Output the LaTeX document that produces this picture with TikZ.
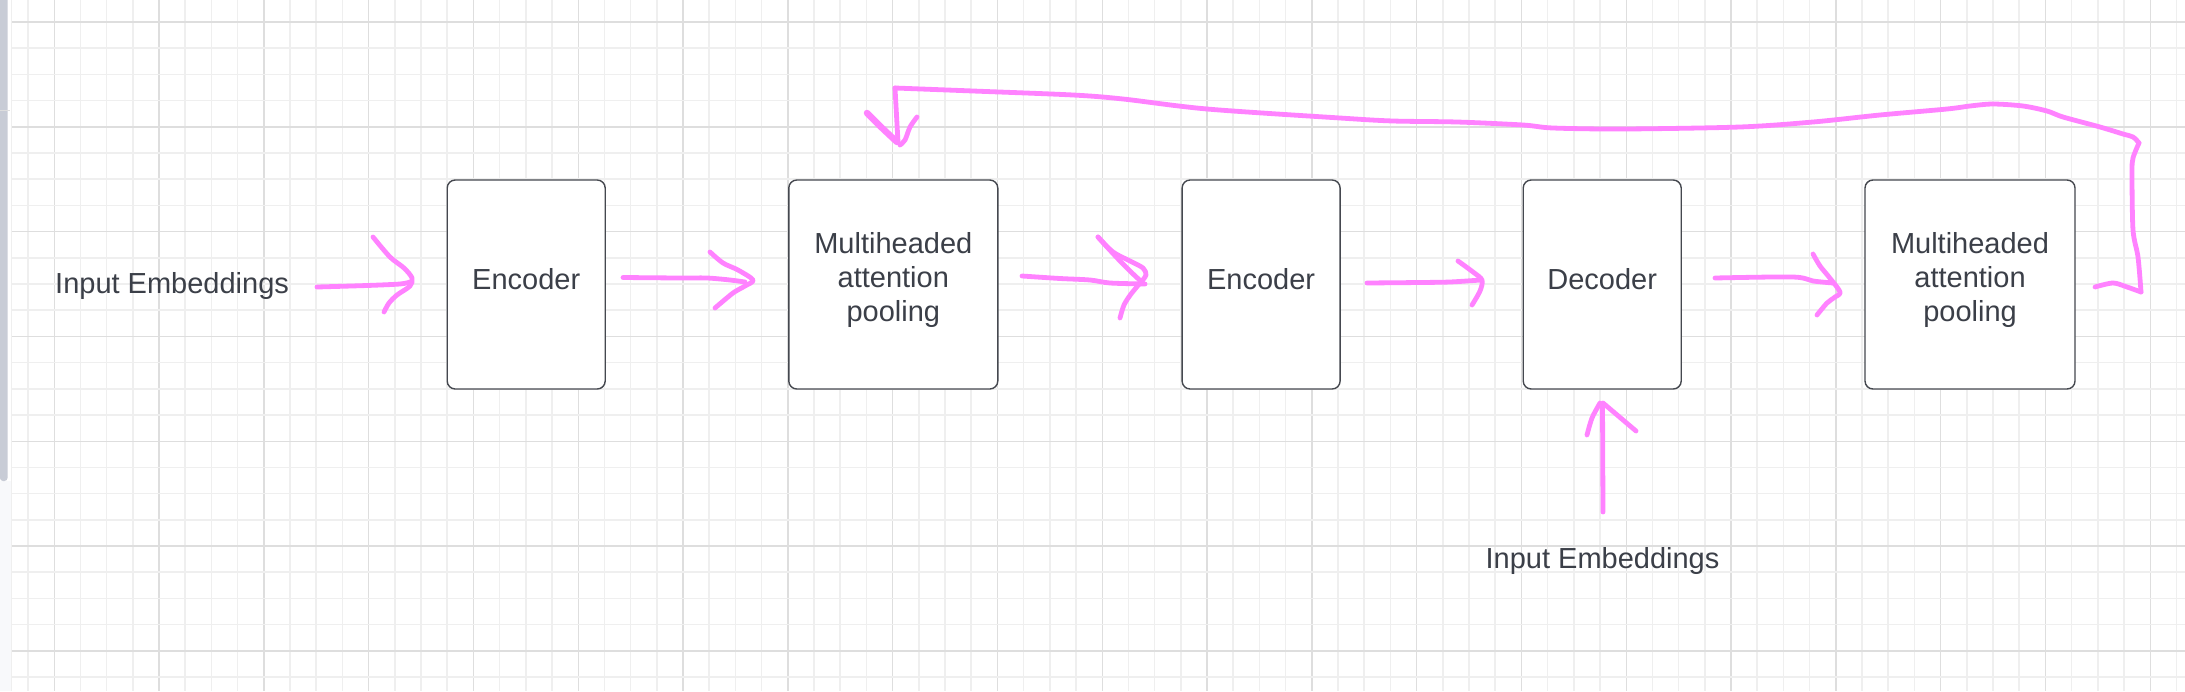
\documentclass[tikz,border=0pt]{standalone}
\usepackage{fontspec}
\setmainfont{Liberation Sans}
\definecolor{pinkink}{RGB}{255,130,255}
\definecolor{boxline}{HTML}{45484F}
\definecolor{txt}{HTML}{3B3F48}
\definecolor{gridminor}{HTML}{EFEFEF}
\definecolor{gridmajor}{HTML}{DEDEDE}
\definecolor{sidebar}{HTML}{C8CCD6}
\definecolor{sidestrip}{HTML}{F8F9FB}
\begin{document}
\begin{tikzpicture}[x=1pt,y=-1pt,
  ink/.style={draw=pinkink,line width=4.8pt,line cap=round,line join=round},
  blk/.style={draw=boxline,line width=1.4pt,fill=white,rounded corners=8pt,inner sep=0pt,minimum height=209pt},
  lbl/.style={text=txt,font=\fontsize{29}{34}\selectfont,inner sep=0pt,align=center}]
\useasboundingbox (0,0) rectangle (2185,691);
% background grid
\fill[white] (0,0) rectangle (2185,691);
\foreach \i in {0,...,82}{
  \pgfmathsetmacro\xx{28+\i*26.2}
  \pgfmathtruncatemacro\mm{mod(\i,4)}
  \ifnum\mm=1
    \draw[gridmajor,line width=1.4pt] (\xx,0) -- (\xx,691);
  \else
    \draw[gridminor,line width=1.5pt] (\xx,0) -- (\xx,691);
  \fi
}
\foreach \j in {-1,...,25}{
  \pgfmathsetmacro\yy{22+\j*26.2}
  \pgfmathtruncatemacro\mm{mod(\j+4,4)}
  \ifnum\mm=0
    \draw[gridmajor,line width=1.4pt] (11.5,\yy) -- (2185,\yy);
  \else
    \draw[gridminor,line width=1.5pt] (11.5,\yy) -- (2185,\yy);
  \fi
}
\fill[white] (0,0) rectangle (11,481);
\fill[sidestrip] (0,481) rectangle (11,691);
\draw[gridminor,line width=1.2pt] (11.5,0) -- (11.5,691);
\fill[sidebar,rounded corners=3pt] (0,-10) rectangle (7.5,481);
\draw[gridmajor,line width=1pt] (0,110) -- (10,110);

% boxes
\node[blk,minimum width=158pt] (e1) at (526.2,284.5) {};
\node[blk,minimum width=209pt] (m1) at (893.3,284.5) {};
\node[blk,minimum width=158pt] (e2) at (1261.1,284.5) {};
\node[blk,minimum width=158pt] (dec) at (1602.2,284.5) {};
\node[blk,minimum width=210pt] (m2) at (1970,284.5) {};

% labels
\node[lbl] (e1t) at ([yshift=5pt]e1.center) {Encoder};
\node[lbl] (m1t) at ([yshift=5pt]m1.center) {Multiheaded\\attention\\pooling};
\node[lbl] (e2t) at ([yshift=5pt]e2.center) {Encoder};
\node[lbl] (dect) at ([yshift=5pt]dec.center) {Decoder};
\node[lbl] (m2t) at ([yshift=5pt]m2.center) {Multiheaded\\attention\\pooling};
\node[lbl,anchor=base west] (in1) at (55,293) {Input Embeddings};
\node[lbl,anchor=base] (in2) at (1602.5,568) {Input Embeddings};

% arrow: input -> encoder 1
\draw[ink] plot[smooth] coordinates {(317,287) (367,285.5) (400,284) (410,282)};
\draw[ink] plot[smooth] coordinates {(373,237) (390,257) (404,268) (412,278) (410,286) (397,295) (389,303) (384,312)};
% encoder 1 -> MAP 1
\draw[ink] plot[smooth] coordinates {(623,277.5) (680,278) (707,278) (730,280) (745,282)};
\draw[ink] plot[smooth] coordinates {(710,252) (723,263) (738,270) (753,280) (745,286) (733,293) (715,308)};
% MAP 1 -> encoder 2
\draw[ink] plot[smooth] coordinates {(1022,276) (1060,278.5) (1090,280) (1110,283) (1145,284)};
\draw[ink] plot[smooth] coordinates {(1098,237) (1113,252) (1130,261) (1143,268) (1146,275) (1141,282)};
\draw[ink] (1098,237) .. controls (1115,256) and (1128,270) .. (1143,283);
\draw[ink] plot[smooth] coordinates {(1141,282) (1131,294) (1124,305) (1120,318)};
% encoder 2 -> decoder
\draw[ink] plot[smooth] coordinates {(1367,283) (1420,282.5) (1450,282) (1481,280)};
\draw[ink] plot[smooth] coordinates {(1458,261) (1473,272) (1482,280) (1480,291) (1472,305)};
% decoder -> MAP 2
\draw[ink] plot[smooth] coordinates {(1715,278) (1793,277) (1813,281) (1833,283)};
\draw[ink] plot[smooth] coordinates {(1813,254) (1820,266) (1829,277) (1840,292) (1835,297) (1827,303) (1817,315)};
% input embeddings -> decoder
\draw[ink] (1603,512) -- (1602.5,404);
\draw[ink] plot[smooth] coordinates {(1587,435) (1592,418) (1600,403)};
\draw[ink] (1603,403) -- (1636,431);
% feedback loop MAP 2 -> MAP 1
\draw[ink] plot[smooth] coordinates {(2095,287) (2113,283) (2127,287) (2141,292)};
\draw[ink] plot[smooth] coordinates {(2141,292) (2138,257) (2133,230) (2132,173) (2133,158) (2139,143)};
\draw[ink] plot[smooth] coordinates {(2139,143) (2133,137) (2123,134) (2100,127) (2063,117) (2047,111) (2023,106) (1993,104) (1970,106) (1947,109) (1880,115) (1813,122) (1740,127) (1623,129) (1553,128) (1523,125) (1457,122) (1393,121) (1340,118) (1207,109) (1123,99) (1073,95) (973,91) (895,88)};
\draw[ink] (895,88) -- (898,142);
\draw[ink,line width=6.5pt] plot[smooth] coordinates {(867,113) (880,126) (897,142)};
\draw[ink] plot[smooth] coordinates {(917,117) (910,127) (905,140) (900,145)};
\end{tikzpicture}
\end{document}
